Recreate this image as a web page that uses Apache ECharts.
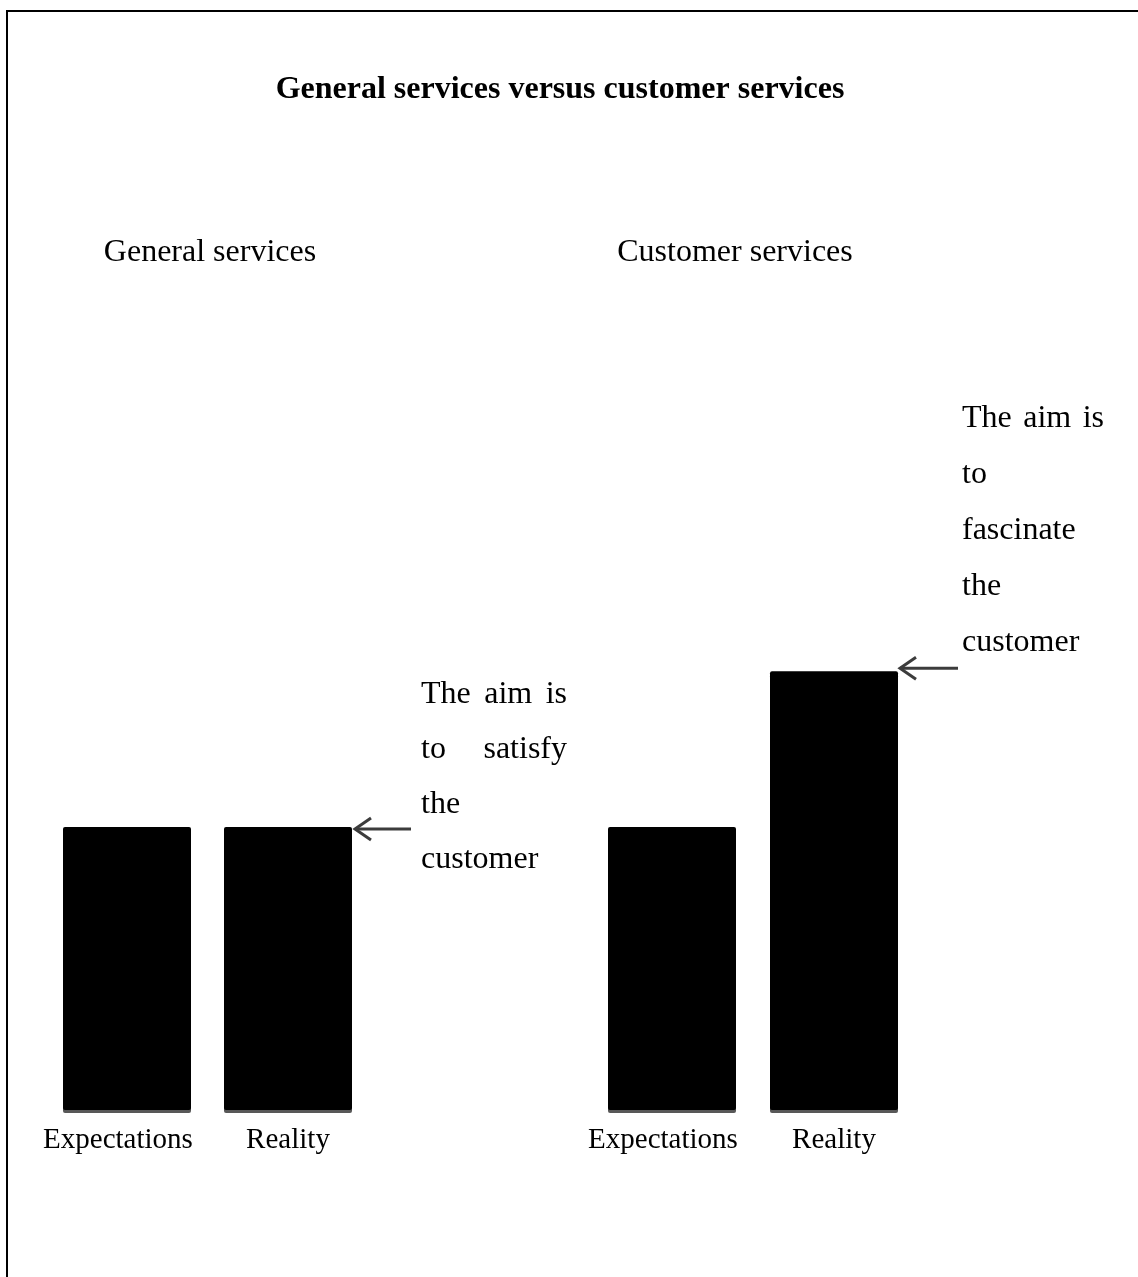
<!DOCTYPE html>
<html><head><meta charset="utf-8">
<style>html,body{margin:0;padding:0;background:#fff}#c{width:1138px;height:1277px}</style>
<script src="https://cdn.jsdelivr.net/npm/echarts@6/dist/echarts.min.js"></script>
</head><body><div id="c"></div>
<script>
// ---- data ----
const chartTitle = 'General services versus customer services';
const panelTitles = ['General services', 'Customer services'];
const categories = ['Expectations', 'Reality'];
const generalValues = [100, 100];
const customerValues = [100, 155];
const generalNote = [['The', 'aim', 'is'], ['to', 'satisfy'], ['the'], ['customer']];
const customerNote = [['The', 'aim', 'is'], ['to'], ['fascinate'], ['the'], ['customer']];

const SERIF = '"Liberation Serif", "Times New Roman", serif';
const chart = echarts.init(document.getElementById('c'), null, { renderer: 'canvas' });

const catData = categories.map((c, i) => i === 0
  ? { value: c, textStyle: { padding: [0, 18, 0, 0] } }
  : { value: c });

const xAxisBase = (gi) => ({
  type: 'category', gridIndex: gi, data: catData,
  axisLine: { show: false }, axisTick: { show: false },
  axisLabel: { interval: 0, hideOverlap: false, color: '#000', fontFamily: SERIF, fontSize: 29, lineHeight: 29, margin: 16 }
});
const yAxisBase = (gi) => ({
  type: 'value', gridIndex: gi, min: 0, max: 200, show: false, splitLine: { show: false }
});
const barStyle = {
  color: '#000', borderRadius: 2,
  shadowColor: 'rgba(70,70,70,0.9)', shadowOffsetY: 3, shadowOffsetX: 0, shadowBlur: 0
};

chart.setOption({
  backgroundColor: '#fff',
  animation: false,
  title: [
    { text: chartTitle, left: 560, top: 74, textAlign: 'center', padding: 0,
      textStyle: { fontFamily: SERIF, fontWeight: 'bold', fontSize: 32, lineHeight: 32, color: '#000' } },
    { text: panelTitles[0], left: 210, top: 237, textAlign: 'center', padding: 0,
      textStyle: { fontFamily: SERIF, fontWeight: 'normal', fontSize: 32, lineHeight: 32, color: '#000' } },
    { text: panelTitles[1], left: 735, top: 237, textAlign: 'center', padding: 0,
      textStyle: { fontFamily: SERIF, fontWeight: 'normal', fontSize: 32, lineHeight: 32, color: '#000' } }
  ],
  grid: [
    { left: 46.5, width: 322, top: 544, bottom: 167 },
    { left: 591, width: 324, top: 544, bottom: 167 }
  ],
  xAxis: [xAxisBase(0), xAxisBase(1)],
  yAxis: [yAxisBase(0), yAxisBase(1)],
  series: [
    { type: 'bar', xAxisIndex: 0, yAxisIndex: 0, data: generalValues, barWidth: 128, itemStyle: barStyle },
    { type: 'bar', xAxisIndex: 1, yAxisIndex: 1, data: customerValues, barWidth: 128, itemStyle: barStyle }
  ]
});

// ---- annotations (justified text) and arrows ----
const ctx = document.createElement('canvas').getContext('2d');
ctx.font = '32px ' + SERIF;
function noteElements(lines, left, width, firstY, step) {
  const els = [];
  lines.forEach((words, li) => {
    const y = firstY + li * step;
    const widths = words.map(w => ctx.measureText(w).width);
    const total = widths.reduce((a, b) => a + b, 0);
    const gap = words.length > 1 ? (width - total) / (words.length - 1) : 0;
    let x = left;
    words.forEach((w, wi) => {
      els.push({ type: 'text', x: x, y: y,
        style: { text: w, fill: '#000', font: '32px ' + SERIF, textVerticalAlign: 'middle', textAlign: 'left' } });
      x += widths[wi] + gap;
    });
  });
  return els;
}
function arrow(tipX, tipY, len) {
  const st = { stroke: '#3c3c3c', lineWidth: 3 };
  return [
    { type: 'line', shape: { x1: tipX, y1: tipY, x2: tipX + len, y2: tipY }, style: st },
    { type: 'polyline', shape: { points: [[tipX + 16, tipY - 11], [tipX, tipY], [tipX + 16, tipY + 11]] }, style: Object.assign({ fill: null }, st) }
  ];
}
const g = chart.convertToPixel({ seriesIndex: 0 }, [1, generalValues[1]]);
const c = chart.convertToPixel({ seriesIndex: 1 }, [1, customerValues[1]]);

const elements = [
  { type: 'polyline', shape: { points: [[7, 1277], [7, 11], [1138, 11]] }, style: { stroke: '#000', lineWidth: 2, fill: null } }
]
  .concat(noteElements(generalNote, 421, 146, 695, 55))
  .concat(noteElements(customerNote, 962, 142, 419, 56))
  .concat(arrow(g[0] + 64 + 3, g[1] + 2, 56))
  .concat(arrow(c[0] + 64 + 2, c[1] - 3, 58));

chart.setOption({ graphic: { elements: elements } });
</script></body></html>
